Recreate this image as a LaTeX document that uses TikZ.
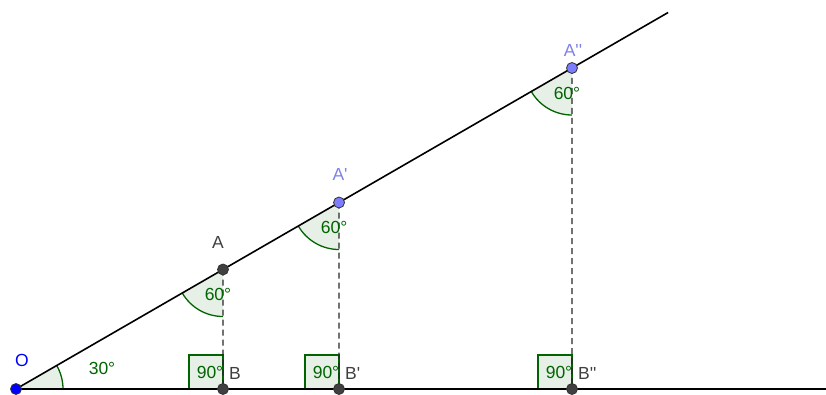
\documentclass[tikz,border=0pt]{standalone}
\usepackage{fontspec}
\setmainfont{Liberation Sans}
\usetikzlibrary{calc}
\definecolor{angstroke}{HTML}{006400}
\definecolor{angfill}{HTML}{E6F0E6}
\definecolor{ptdark}{HTML}{404040}
\definecolor{ptblue}{HTML}{0000FF}
\definecolor{ptlav}{HTML}{7D7DFF}
\definecolor{lablav}{HTML}{8080E8}
\definecolor{labgray}{HTML}{404040}
\newcommand{\prm}{\textquotesingle}
\begin{document}
\begin{tikzpicture}[x=1pt,y=1pt,
  font=\fontsize{17.5}{20}\selectfont,
  pt/.style={circle,draw=black!80,line width=0.8pt,inner sep=0pt,minimum size=11pt},
  ptd/.style={pt,fill=ptdark},
  ptb/.style={pt,fill=ptblue},
  ptl/.style={pt,fill=ptlav},
  mainline/.style={line width=1.6pt,black},
  dropline/.style={line width=1.3pt,black!85,dash pattern=on 6pt off 4pt},
  angsec/.style={fill=angfill},
  angarc/.style={draw=angstroke,line width=1.3pt},
  anglab/.style={text=angstroke,inner sep=0pt},
  grylab/.style={text=labgray,inner sep=0pt},
  lavlab/.style={text=lablav,inner sep=0pt},
  bluelab/.style={text=ptblue,inner sep=0pt}]
\useasboundingbox (0,0) rectangle (826,394);
\coordinate (Oc) at (16,5);
\coordinate (Ac) at ($(Oc)+(30:239)$);
\coordinate (A1c) at ($(Oc)+(30:373)$);
\coordinate (A2c) at ($(Oc)+(30:642)$);
\coordinate (Bc) at (223,5);
\coordinate (B1c) at (339,5);
\coordinate (B2c) at (572,5);
\coordinate (E) at ($(Oc)+(30:753)$);
\coordinate (F) at (826,5);
% angle fills
\fill[angsec] (Oc) -- ++(0:47) arc (0:30:47) -- cycle;
\foreach \p in {Ac,A1c,A2c}{
  \fill[angsec] (\p) -- ++(210:47) arc (210:270:47) -- cycle;
}
\foreach \p in {Bc,B1c,B2c}{
  \filldraw[angsec,draw=angstroke,line width=1.3pt] (\p) rectangle ++(-34,34);
}
% arcs
\draw[angarc] (Oc) ++(0:47) arc (0:30:47);
\foreach \p in {Ac,A1c,A2c}{
  \draw[angarc] (\p) ++(210:47) arc (210:270:47);
}
% lines
\draw[mainline] (Oc) -- (E);
\draw[mainline] (Oc) -- (F);
\draw[dropline] (Ac) -- (Bc);
\draw[dropline] (A1c) -- (B1c);
\draw[dropline] (A2c) -- (B2c);
% angle labels
\node[anglab] at (102,26) {30°};
\node[anglab] at ($(Ac)+(-5,-25)$) {60°};
\node[anglab] at ($(A1c)+(-5,-25)$) {60°};
\node[anglab] at ($(A2c)+(-5,-25)$) {60°};
\node[anglab] at ($(Bc)+(-13,17)$) {90°};
\node[anglab] at ($(B1c)+(-13,17)$) {90°};
\node[anglab] at ($(B2c)+(-13,17)$) {90°};
% points
\node[ptb] (O) at (Oc) {};
\node[ptd] (A) at (Ac) {};
\node[ptl] (A1) at (A1c) {};
\node[ptl] (A2) at (A2c) {};
\node[ptd] (B) at (Bc) {};
\node[ptd] (B1) at (B1c) {};
\node[ptd] (B2) at (B2c) {};
% point labels
\node[bluelab] at ($(Oc)+(6,29)$) {O};
\node[grylab] at ($(Ac)+(-5,27)$) {A};
\node[lavlab] at ($(A1c)+(1,28)$) {A\prm};
\node[lavlab] at ($(A2c)+(1,18)$) {A\prm\prm};
\node[grylab,anchor=west] at ($(Bc)+(6,16)$) {B};
\node[grylab,anchor=west] at ($(B1c)+(6,16)$) {B\prm};
\node[grylab,anchor=west] at ($(B2c)+(6,16)$) {B\prm\prm};
\end{tikzpicture}
\end{document}
